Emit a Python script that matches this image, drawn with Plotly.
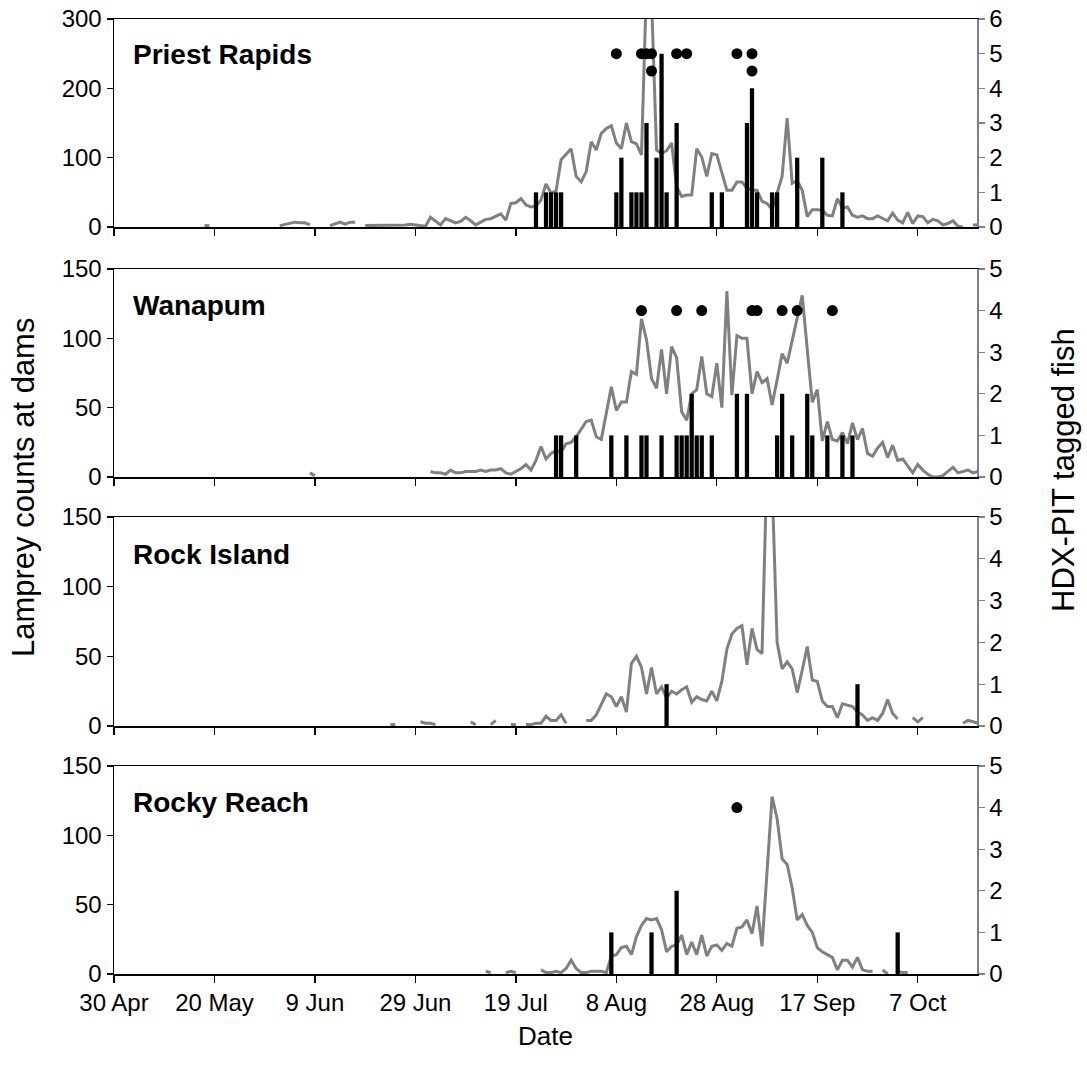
import pandas as pd
import plotly.graph_objects as go
from plotly.subplots import make_subplots

# ---------------- data ----------------
PANELS = ["Priest Rapids", "Wanapum", "Rock Island", "Rocky Reach"]

TICK_DATES = ["2009-04-30", "2009-05-20", "2009-06-09", "2009-06-29", "2009-07-19",
              "2009-08-08", "2009-08-28", "2009-09-17", "2009-10-07"]
TICK_TEXT = ["30 Apr", "20 May", "9 Jun", "29 Jun", "19 Jul", "8 Aug", "28 Aug", "17 Sep", "7 Oct"]
X_START = "2009-04-30"
X_END = "2009-10-18 19:00"

# daily lamprey counts (None = no count)
PR_COUNT_START = "2009-05-18"
PR_COUNTS = [2, 2, None, None, None, None, None, None, None, None,
             None, None, None, None, None, 2, 4, 5, 7, 6,
             6, 3, None, None, None, 2, 4, 7, 4, 7,
             7, None, 2, 2, 2, 2, 3, 3, 3, 3,
             3, 4, 3, 2, 1, 14, 8, 3, 12, 9,
             6, 8, 14, 9, 3, 7, 11, 12, 15, 19,
             10, 34, 35, 41, 32, 29, 30, 39, 62, 49,
             52, 97, 105, 113, 73, 65, 80, 123, 111, 135,
             142, 146, 121, 113, 150, 123, 120, 104, 350, 330,
             111, 106, 110, 121, 58, 44, 46, 46, 113, 101,
             73, 106, 104, 77, 53, 53, 65, 65, 56, 53,
             53, 37, 34, 25, 51, 73, 157, 63, 67, 53,
             15, 25, 25, 24, 17, 16, 41, 27, 29, 17,
             14, 16, 12, 12, 16, 12, 9, 20, 10, 6,
             21, 5, 16, 15, 6, 11, 9, 3, 5, 9,
             1, 0, None, 3, 3]

WA_COUNT_START = "2009-06-08"
WA_COUNTS = [3, 1, None, None, None, None, None, None, None, None,
             None, None, None, None, None, None, None, None, None, None,
             None, None, None, None, 4, 3, 3, 2, 5, 3,
             3, 4, 4, 4, 5, 4, 5, 5, 6, 3,
             2, 4, 6, 9, 5, 12, 22, 13, 17, 19,
             18, 24, 25, 29, 35, 40, 41, 29, 27, 46,
             65, 48, 54, 54, 76, 74, 114, 99, 71, 64,
             92, 60, 94, 86, 47, 41, 60, 63, 87, 60,
             58, 82, 50, 134, 59, 102, 100, 100, 60, 76,
             68, 71, 52, 70, 89, 82, 99, 115, 131, 92,
             54, 63, 26, 40, 27, 26, 32, 24, 39, 27,
             35, 17, 15, 21, 25, 14, 23, 12, 13, 8,
             3, 9, 5, 2, 0, 0, 1, 4, 7, 3,
             4, 5, 3, 4]

RI_COUNT_START = "2009-06-24"
RI_COUNTS = [1, 1, None, None, None, None, 3, 2, 2, 1,
             None, None, None, None, None, None, 3, 1, None, None,
             1, 4, None, None, 1, 1, None, 1, 1, 2,
             2, 7, 4, 4, 8, 2, None, None, None, 4,
             4, 8, 15, 23, 21, 14, 21, 10, 45, 50,
             42, 23, 42, 23, 28, 20, 25, 23, 26, 28,
             17, 21, 19, 18, 25, 18, 32, 55, 66, 70,
             72, 44, 70, 55, 52, 190, 175, 60, 41, 46,
             41, 24, 40, 57, 33, 32, 18, 14, 14, 6,
             16, 15, 14, 10, 8, 4, 6, 4, 9, 19,
             9, 5, None, None, 6, 3, 6, None, None, None,
             None, None, None, None, 2, 4, 3, 2]

RR_COUNT_START = "2009-07-13"
RR_COUNTS = [2, 1, None, None, 1, 2, 1, None, None, None,
             None, 3, 1, 1, 2, 1, 4, 10, 4, 1,
             1, 2, 2, 2, 1, 13, 14, 19, 20, 14,
             27, 35, 40, 39, 40, 32, 16, 20, 21, 28,
             14, 23, 14, 28, 13, 20, 21, 17, 22, 20,
             33, 34, 39, 29, 49, 20, 74, 128, 112, 83,
             79, 62, 39, 43, 35, 30, 19, 16, 14, 12,
             3, 10, 10, 5, 12, 3, 2, 2, None, 3,
             0, None, 2, 1, 1]

# HDX-PIT tagged fish (bars)
PR_TAG_DATES = ["2009-07-23", "2009-07-25", "2009-07-26", "2009-07-27", "2009-07-28",
                "2009-08-08", "2009-08-09", "2009-08-11", "2009-08-12", "2009-08-13",
                "2009-08-14", "2009-08-16", "2009-08-17", "2009-08-18", "2009-08-20",
                "2009-08-27", "2009-08-29", "2009-09-03", "2009-09-04", "2009-09-05",
                "2009-09-08", "2009-09-09", "2009-09-13", "2009-09-18", "2009-09-22"]
PR_TAGS = [1, 1, 1, 1, 1, 1, 2, 1, 1, 1, 3, 2, 5, 1, 3, 1, 1, 3, 4, 1, 1, 1, 2, 2, 1]

WA_TAG_DATES = ["2009-07-27", "2009-07-28", "2009-07-31", "2009-08-07", "2009-08-10",
                "2009-08-13", "2009-08-14", "2009-08-17", "2009-08-20", "2009-08-21",
                "2009-08-22", "2009-08-23", "2009-08-24", "2009-08-25", "2009-08-27",
                "2009-09-01", "2009-09-03", "2009-09-09", "2009-09-10", "2009-09-12",
                "2009-09-15", "2009-09-16", "2009-09-19", "2009-09-22", "2009-09-24"]
WA_TAGS = [1, 1, 1, 1, 1, 1, 1, 1, 1, 1, 1, 2, 1, 1, 1, 2, 2, 1, 2, 1, 2, 1, 1, 1, 1]

RI_TAG_DATES = ["2009-08-18", "2009-09-25"]
RI_TAGS = [1, 1]

RR_TAG_DATES = ["2009-08-07", "2009-08-15", "2009-08-20", "2009-10-03"]
RR_TAGS = [1, 1, 2, 1]

# dots (right axis)
PR_DOT_DATES = ["2009-08-08", "2009-08-13", "2009-08-14", "2009-08-15", "2009-08-20",
                "2009-08-22", "2009-09-01", "2009-09-04", "2009-08-15", "2009-09-04"]
PR_DOTS = [5, 5, 5, 5, 5, 5, 5, 5, 4.5, 4.5]
WA_DOT_DATES = ["2009-08-13", "2009-08-20", "2009-08-25", "2009-09-04", "2009-09-05",
                "2009-09-10", "2009-09-13", "2009-09-20"]
WA_DOTS = [4, 4, 4, 4, 4, 4, 4, 4]
RI_DOT_DATES = []
RI_DOTS = []
RR_DOT_DATES = ["2009-09-01"]
RR_DOTS = [4]

LEFT_MAX = [300, 150, 150, 150]
LEFT_STEP = [100, 50, 50, 50]
RIGHT_MAX = [6, 5, 5, 5]

# ---------------- figure ----------------
FONT = "Liberation Sans, Arial, sans-serif"
W, H = 1087, 1078
L, R, T, B = 114, 110, 19, 104
plot_h = H - T - B
panel_px = [(19, 227), (269, 477), (517, 726), (766, 974)]

fig = make_subplots(rows=4, cols=1, shared_xaxes=True,
                    specs=[[{"secondary_y": True}]] * 4, vertical_spacing=0.04)

counts = [(PR_COUNT_START, PR_COUNTS), (WA_COUNT_START, WA_COUNTS),
          (RI_COUNT_START, RI_COUNTS), (RR_COUNT_START, RR_COUNTS)]
tags = [(PR_TAG_DATES, PR_TAGS), (WA_TAG_DATES, WA_TAGS),
        (RI_TAG_DATES, RI_TAGS), (RR_TAG_DATES, RR_TAGS)]
dots = [(PR_DOT_DATES, PR_DOTS), (WA_DOT_DATES, WA_DOTS),
        (RI_DOT_DATES, RI_DOTS), (RR_DOT_DATES, RR_DOTS)]

DAY_MS = 86400000
for i in range(4):
    row = i + 1
    start, vals = counts[i]
    xs = pd.date_range(start, periods=len(vals), freq="D")
    fig.add_trace(go.Scatter(x=xs, y=vals, mode="lines",
                             line=dict(color="#808080", width=3),
                             connectgaps=False, showlegend=False, hoverinfo="skip"),
                  row=row, col=1, secondary_y=False)
    td, tv = tags[i]
    fig.add_trace(go.Bar(x=pd.to_datetime(td), y=tv, width=0.85 * DAY_MS,
                         marker=dict(color="black", line=dict(width=0)),
                         showlegend=False, hoverinfo="skip"),
                  row=row, col=1, secondary_y=True)
    dd, dv = dots[i]
    if dd:
        fig.add_trace(go.Scatter(x=pd.to_datetime(dd), y=dv, mode="markers",
                                 marker=dict(color="black", size=11),
                                 showlegend=False, hoverinfo="skip"),
                      row=row, col=1, secondary_y=True)

TICK_FONT = dict(family=FONT, size=24, color="black")
for i in range(4):
    top, bot = panel_px[i]
    dom = [(H - B - bot) / plot_h, (H - B - top) / plot_h]
    ya = "yaxis" if i == 0 else f"yaxis{2 * i + 1}"
    yb = f"yaxis{2 * i + 2}"
    fig.layout[ya].update(domain=dom, range=[0, LEFT_MAX[i]], dtick=LEFT_STEP[i], tick0=0,
                          showline=True, linecolor="black", linewidth=1.5,
                          ticks="outside", ticklen=6, tickwidth=1.3, tickcolor="black",
                          showgrid=False, zeroline=False, automargin=False,
                          tickfont=TICK_FONT)
    fig.layout[yb].update(domain=dom, range=[0, RIGHT_MAX[i]], dtick=1, tick0=0,
                          showline=True, linecolor="#808080", linewidth=1.5,
                          ticks="outside", ticklen=6, tickwidth=1.3, tickcolor="#808080",
                          showgrid=False, zeroline=False, automargin=False,
                          tickfont=TICK_FONT)
    xa = "xaxis" if i == 0 else f"xaxis{i + 1}"
    fig.layout[xa].update(type="date", range=[X_START, X_END], domain=[0, 1],
                          tickvals=TICK_DATES, ticktext=TICK_TEXT,
                          showline=True, linecolor="black", linewidth=1.5, mirror=True,
                          ticks="outside", ticklen=7, tickwidth=1.3, tickcolor="black",
                          showgrid=False, zeroline=False, automargin=False,
                          showticklabels=(i == 3),
                          tickfont=TICK_FONT)

def py(pix):
    return (H - B - pix) / plot_h

def px(pix):
    return (pix - L) / (W - L - R)

label_y = [55, 305, 554, 802]
ann = []
for i, name in enumerate(PANELS):
    ann.append(dict(text=f"<b>{name}</b>", x=px(131), y=py(label_y[i]), xref="paper", yref="paper",
                    xanchor="left", yanchor="middle", showarrow=False,
                    font=dict(family=FONT, size=28, color="black")))
ann.append(dict(text="Lamprey counts at dams", x=px(23), y=py(488), xref="paper", yref="paper",
                textangle=-90, showarrow=False, xanchor="center", yanchor="middle",
                font=dict(family=FONT, size=31, color="black")))
ann.append(dict(text="HDX-PIT tagged fish", x=px(1063), y=py(470), xref="paper", yref="paper",
                textangle=-90, showarrow=False, xanchor="center", yanchor="middle",
                font=dict(family=FONT, size=31, color="black")))
ann.append(dict(text="Date", x=px(545), y=py(1036), xref="paper", yref="paper",
                showarrow=False, xanchor="center", yanchor="middle",
                font=dict(family=FONT, size=26, color="black")))

fig.update_layout(template="none", width=W, height=H,
                  margin=dict(l=L, r=R, t=T, b=B, autoexpand=False),
                  paper_bgcolor="white", plot_bgcolor="white",
                  barmode="overlay", annotations=ann, showlegend=False, hovermode=False)

fig.write_html("out.html", config={"displayModeBar": False, "staticPlot": True},
               post_script="document.body.style.margin='0';document.body.style.overflow='hidden';")
